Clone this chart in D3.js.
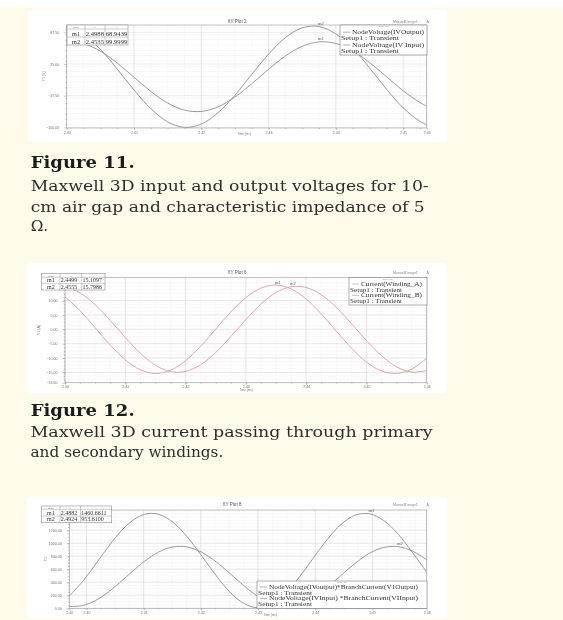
<!DOCTYPE html>
<html>
<head>
<meta charset="utf-8">
<script src="https://cdn.jsdelivr.net/npm/d3@7"></script>
<style>
  html, body { margin: 0; padding: 0; background: #fefbea; }
  svg { display: block; }
</style>
</head>
<body>
<div id="chart"></div>
<script>
// ---- data ----
// Figure 11: XY Plot 2 (voltages)
var plot1Time = [2.4000, 2.4025, 2.4050, 2.4075, 2.4100, 2.4125, 2.4150, 2.4175, 2.4200, 2.4225, 2.4250, 2.4275,
                 2.4300, 2.4325, 2.4350, 2.4375, 2.4400, 2.4425, 2.4450, 2.4475, 2.4500, 2.4525, 2.4535];
var plot1Output = [68.8, 65.3, 50.4, 26.9, -1.1, -29.0, -51.9, -65.9, -68.5, -59.4, -40.1, -13.9,
                   14.7, 40.8, 59.9, 68.7, 65.6, 51.2, 28.0, 0.3, -27.7, -51.0, -57.9];
var plot1Input = [98.6, 83.5, 54.0, 15.2, -26.2, -63.1, -89.1, -99.9, -93.4, -71.0, -36.5, 4.6,
                  44.6, 77.1, 96.4, 98.9, 84.3, 56.3, 17.5, -24.1, -61.4, -88.1, -94.6];
var plot1XTicks = [2.40, 2.41, 2.42, 2.43, 2.44, 2.45, 2.4535];
var plot1YTicks = [87.5, 25, -37.5, -100];
var plot1Legend = ['NodeVoltage(IVOutput)', 'NodeVoltage(IV Input)'];
var plot1MarkerNames = ['m1', 'm2'];
var plot1MarkerX = ['2.4988', '2.4535'];
var plot1MarkerY = ['68.9439', '99.9999'];

// Figure 12: XY Plot 6 (winding currents)
var plot2Time = [2.4000, 2.4025, 2.4050, 2.4075, 2.4100, 2.4125, 2.4150, 2.4175, 2.4200, 2.4225, 2.4250, 2.4275, 2.4300,
                 2.4325, 2.4350, 2.4375, 2.4400, 2.4425, 2.4450, 2.4475, 2.4500, 2.4525, 2.4550, 2.4575, 2.4600];
var plot2WindingA = [11.35, 6.43, 0.52, -5.49, -10.62, -14.11, -15.40, -14.29, -10.95, -5.93, 0.05, 6.00, 11.03,
                     14.33, 15.40, 14.06, 10.53, 5.36, -0.61, -6.51, -11.41, -14.52, -15.37, -13.87, -10.06];
var plot2WindingB = [14.78, 12.66, 8.53, 3.09, -2.84, -8.33, -12.50, -14.73, -14.68, -12.33, -8.09, -2.55, 3.37,
                     8.76, 12.80, 14.82, 14.57, 12.03, 7.63, 2.01, -3.90, -9.19, -13.07, -14.91, -14.34];
var plot2XTicks = [2.40, 2.41, 2.42, 2.43, 2.44, 2.45, 2.46];
var plot2YTicks = [10, 5, 0, -5, -10, -15, -18.6];
var plot2Legend = ['Current(Winding_A)', 'Current(Winding_B)'];
var plot2MarkerNames = ['m1', 'm2'];
var plot2MarkerX = ['2.4499', '2.4555'];
var plot2MarkerY = ['15.1097', '15.7986'];

// Figure 13 (partial): XY Plot 8 (power)
var plot3Time = [2.3970, 2.3995, 2.4020, 2.4045, 2.4070, 2.4095, 2.4120, 2.4145, 2.4170, 2.4195, 2.4220, 2.4245, 2.4270,
                 2.4295, 2.4320, 2.4345, 2.4370, 2.4395, 2.4420, 2.4445, 2.4470, 2.4495, 2.4520, 2.4545, 2.4570, 2.4595];
var plot3OutputPower = [188, 431, 726, 1023, 1270, 1423, 1456, 1363, 1161, 884, 582, 305, 104,
                        13, 48, 204, 453, 751, 1046, 1287, 1431, 1452, 1347, 1139, 859, 556];
var plot3InputPower = [28, 46, 141, 297, 487, 677, 834, 931, 950, 889, 758, 581, 388,
                       211, 83, 27, 51, 152, 312, 503, 691, 845, 935, 947, 879, 746];
var plot3XTicks = [2.397, 2.40, 2.41, 2.42, 2.43, 2.44, 2.45, 2.4595];
var plot3YTicks = [1200, 1000, 800, 600, 400, 200, 0];
var plot3Legend = ['NodeVoltage(IVoutput)*BranchCurrent(V1Output)', 'NodeVoltage(IVInput) *BranchCurrent(VIInput)'];
var plot3MarkerNames = ['m1', 'm2'];
var plot3MarkerX = ['2.4882', '2.4924'];
var plot3MarkerY = ['1460.6611', '953.6100'];

var fig11Title = 'Figure 11.';
var fig11Lines = ['Maxwell 3D input and output voltages for 10-', 'cm air gap and characteristic impedance of 5', 'Ω.'];
var fig12Title = 'Figure 12.';
var fig12Lines = ['Maxwell 3D current passing through primary', 'and secondary windings.'];

// ---- drawing ----
var svg = d3.select('#chart').append('svg').attr('width', 563).attr('height', 620);
var defs = svg.append('defs');
defs.append('filter').attr('id', 'soft').append('feGaussianBlur').attr('stdDeviation', 0.4);
defs.append('filter').attr('id', 'softText').append('feGaussianBlur').attr('stdDeviation', 0.25);

svg.append('rect').attr('width', 563).attr('height', 620).attr('fill', '#fefbea');
svg.append('rect').attr('width', 563).attr('height', 7).attr('fill', '#ffffff');

var serif = '"Liberation Serif", "Times New Roman", serif';
var sans = '"Liberation Sans", Arial, sans-serif';

function minorValues(domain, step) {
   var lo = Math.ceil(domain[0] / step - 1e-6) * step;
   return d3.range(lo, domain[1] + step * 1e-3, step);
}

function drawPlot(p, n) {
   var g = svg.append('g').attr('filter', 'url(#soft)');
   var a = p.area;

   g.append('rect')
      .attr('x', p.panel[0]).attr('y', p.panel[1])
      .attr('width', p.panel[2] - p.panel[0]).attr('height', p.panel[3] - p.panel[1])
      .attr('rx', 4).attr('fill', '#ffffff');

   var x = d3.scaleLinear().domain(p.xDomain).range([a.left, a.right]);
   var y = d3.scaleLinear().domain(p.yDomain).range([a.bottom, a.top]);

   // grid
   var grid = g.append('g');
   grid.selectAll('.vminor').data(minorValues(p.xDomain, p.xMinor)).enter().append('line')
      .attr('x1', function (d) { return x(d); }).attr('x2', function (d) { return x(d); })
      .attr('y1', a.top).attr('y2', a.bottom)
      .attr('stroke', '#ececec').attr('stroke-width', 0.5).attr('stroke-dasharray', '1.5,1');
   grid.selectAll('.hminor').data(minorValues(p.yDomain, p.yMinor)).enter().append('line')
      .attr('y1', function (d) { return y(d); }).attr('y2', function (d) { return y(d); })
      .attr('x1', a.left).attr('x2', a.right)
      .attr('stroke', '#efefef').attr('stroke-width', 0.5);
   grid.selectAll('.vmajor').data(p.xTicks).enter().append('line')
      .attr('x1', function (d) { return x(d); }).attr('x2', function (d) { return x(d); })
      .attr('y1', a.top).attr('y2', a.bottom)
      .attr('stroke', '#d6d6d6').attr('stroke-width', 0.6);
   grid.selectAll('.hmajor').data(p.yTicks).enter().append('line')
      .attr('y1', function (d) { return y(d); }).attr('y2', function (d) { return y(d); })
      .attr('x1', a.left).attr('x2', a.right)
      .attr('stroke', '#dcdcdc').attr('stroke-width', 0.6);

   g.append('rect')
      .attr('x', a.left).attr('y', a.top)
      .attr('width', a.right - a.left).attr('height', a.bottom - a.top)
      .attr('fill', 'none').attr('stroke', '#a8a8a8').attr('stroke-width', 0.7);

   // axes
   var gx = g.append('g').attr('transform', 'translate(0,' + a.bottom + ')')
      .call(d3.axisBottom(x).tickValues(p.xTicks).tickSize(2).tickPadding(1.2).tickFormat(d3.format('.2f')));
   var gxm = g.append('g').attr('transform', 'translate(0,' + a.bottom + ')')
      .call(d3.axisBottom(x).tickValues(minorValues(p.xDomain, p.xMinor)).tickSize(1).tickFormat(''));
   var gy = g.append('g').attr('transform', 'translate(' + a.left + ',0)')
      .call(d3.axisLeft(y).tickValues(p.yTicks).tickSize(2.5).tickPadding(5).tickFormat(d3.format('.2f')));
   var gym = g.append('g').attr('transform', 'translate(' + a.left + ',0)')
      .call(d3.axisLeft(y).tickValues(minorValues(p.yDomain, p.yMinor)).tickSize(1.3).tickFormat(''));
   [gx, gxm, gy, gym].forEach(function (ax) {
      ax.select('.domain').remove();
      ax.selectAll('line').attr('stroke', '#8c8c8c').attr('stroke-width', 0.5);
      ax.selectAll('text').attr('font-family', sans).attr('font-size', 3.6).attr('fill', '#707070');
   });

   g.append('text').attr('x', p.timeX).attr('y', a.bottom + p.timeDy)
      .attr('text-anchor', 'middle').attr('font-family', sans).attr('font-size', 3).attr('fill', '#777')
      .text('Time [ms]');
   g.append('text').attr('transform', 'translate(' + p.yTitleX + ',' + (a.top + a.bottom) / 2 + ') rotate(-90)')
      .attr('text-anchor', 'middle').attr('font-family', sans).attr('font-size', 3.6).attr('fill', '#777')
      .text(p.yTitle);

   // curves
   g.append('clipPath').attr('id', 'clip' + n).append('rect')
      .attr('x', a.left).attr('y', a.top - 2)
      .attr('width', a.right - a.left).attr('height', a.bottom - a.top + 2);
   var line = d3.line()
      .x(function (d, i) { return x(p.time[i]); })
      .y(function (d) { return y(d); })
      .curve(d3.curveCatmullRom.alpha(0.5));
   p.series.forEach(function (s) {
      g.append('path').datum(s.values)
         .attr('clip-path', 'url(#clip' + n + ')')
         .attr('d', line).attr('fill', 'none')
         .attr('stroke', p.color).attr('stroke-width', 0.9);
   });

   // marker labels at the peaks
   p.series.forEach(function (s) {
      var best = -1;
      p.time.forEach(function (t, i) {
         if (t >= s.markFrom && t <= s.markTo && (best < 0 || s.values[i] > s.values[best])) best = i;
      });
      g.append('text').attr('x', x(p.time[best]) - 1).attr('y', y(s.values[best]) - 1.5)
         .attr('font-family', serif).attr('font-size', 4.5).attr('fill', '#555')
         .text(s.marker);
   });

   // title row
   g.append('text').attr('x', p.titleX).attr('y', p.titleY).attr('text-anchor', 'middle')
      .attr('font-family', sans).attr('font-size', 4.6).attr('fill', '#555').text(p.title);
   g.append('text').attr('x', a.right - 9).attr('y', p.titleY).attr('text-anchor', 'end')
      .attr('font-family', sans).attr('font-size', 3.4).attr('fill', '#888').text('MaxwellDesign1');
   g.append('text').attr('x', a.right + 1).attr('y', p.titleY).attr('text-anchor', 'middle')
      .attr('font-family', sans).attr('font-size', 3.6).attr('fill', '#888').text('A');

   // marker table
   var t = p.table;
   var tw = d3.sum(t.colW), th = d3.sum(t.rowH);
   var tg = g.append('g');
   tg.append('rect').attr('x', t.x).attr('y', t.y).attr('width', tw).attr('height', th)
      .attr('fill', '#ffffff').attr('stroke', '#8a8a8a').attr('stroke-width', 0.6);
   var cx = t.x;
   t.colW.forEach(function (w, ci) {
      if (ci > 0) tg.append('line').attr('x1', cx).attr('x2', cx).attr('y1', t.y).attr('y2', t.y + th)
         .attr('stroke', '#9a9a9a').attr('stroke-width', 0.5);
      tg.append('text').attr('x', cx + w / 2).attr('y', t.y + t.rowH[0] - 0.8).attr('text-anchor', 'middle')
         .attr('font-family', sans).attr('font-size', 2.4).attr('fill', '#777').text(['Name', 'X', 'Y'][ci]);
      cx += w;
   });
   var ry = t.y + t.rowH[0];
   t.names.forEach(function (nm, ri) {
      tg.append('line').attr('x1', t.x).attr('x2', t.x + tw).attr('y1', ry).attr('y2', ry)
         .attr('stroke', '#9a9a9a').attr('stroke-width', 0.5);
      var rowVals = [nm, t.xs[ri], t.ys[ri]];
      var px = t.x;
      rowVals.forEach(function (v, ci) {
         tg.append('text').attr('x', ci === 0 ? px + t.colW[0] / 2 : px + 0.8)
            .attr('y', ry + t.rowH[ri + 1] - 1.4)
            .attr('text-anchor', ci === 0 ? 'middle' : 'start')
            .attr('font-family', serif).attr('font-size', t.font).attr('fill', '#333').text(v);
         px += t.colW[ci];
      });
      ry += t.rowH[ri + 1];
   });

   // legend
   var L = p.legend;
   var lg = g.append('g');
   lg.append('rect').attr('x', L.x0).attr('y', L.y0).attr('width', L.x1 - L.x0).attr('height', L.y1 - L.y0)
      .attr('fill', '#ffffff').attr('stroke', '#7a7a7a').attr('stroke-width', 0.6);
   lg.append('text').attr('x', (L.x0 + L.x1) / 2).attr('y', L.y0 + 2.2).attr('text-anchor', 'middle')
      .attr('font-family', sans).attr('font-size', 2.2).attr('fill', '#888').text('Curve Info');
   L.names.forEach(function (nm, i) {
      var by = L.rows[i * 2];
      lg.append('line').attr('x1', L.x0 + 3).attr('x2', L.x0 + 10).attr('y1', by - 1.8).attr('y2', by - 1.8)
         .attr('stroke', p.color).attr('stroke-width', 0.7);
      lg.append('text').attr('x', L.x0 + 12).attr('y', by)
         .attr('font-family', serif).attr('font-size', L.font).attr('fill', '#333')
         .attr('textLength', L.nameW).attr('lengthAdjust', 'spacingAndGlyphs').text(nm);
      lg.append('text').attr('x', L.x0 + 1).attr('y', L.rows[i * 2 + 1])
         .attr('font-family', serif).attr('font-size', L.font).attr('fill', '#333')
         .attr('textLength', L.setupW).attr('lengthAdjust', 'spacingAndGlyphs').text('Setup1 : Transient');
   });
}

drawPlot({
   panel: [28, 10, 447, 142],
   area: { left: 66.7, right: 426.7, top: 25, bottom: 128 },
   xDomain: [2.40, 2.4535], yDomain: [-101.2, 102],
   xTicks: plot1XTicks, yTicks: plot1YTicks,
   xMinor: 0.0025, yMinor: 62.5 / 6,
   time: plot1Time, color: '#8e8e8e',
   series: [
      { values: plot1Output, marker: plot1MarkerNames[0], markFrom: 2.43, markTo: 2.445 },
      { values: plot1Input, marker: plot1MarkerNames[1], markFrom: 2.43, markTo: 2.445 }
   ],
   title: 'XY Plot 2', titleX: 237, titleY: 22.5,
   yTitle: 'Y1 [V]', yTitleX: 45, timeX: 244, timeDy: 7.3,
   table: { x: 67, y: 25, colW: [18, 20, 23], rowH: [4, 8, 8], font: 6.6,
            names: plot1MarkerNames, xs: plot1MarkerX, ys: plot1MarkerY },
   legend: { x0: 340, y0: 25, x1: 427, y1: 55, font: 5.9, nameW: 72, setupW: 58,
             rows: [34, 40.4, 46.8, 53.2], names: plot1Legend }
}, 1);

drawPlot({
   panel: [27, 263, 447, 393],
   area: { left: 65, right: 426.7, top: 277.3, bottom: 382.7 },
   xDomain: [2.40, 2.46], yDomain: [-18.6, 18.1],
   xTicks: plot2XTicks, yTicks: plot2YTicks,
   xMinor: 0.0025, yMinor: 1.25,
   time: plot2Time, color: '#d6a0a6',
   series: [
      { values: plot2WindingA, marker: plot2MarkerNames[0], markFrom: 2.43, markTo: 2.44 },
      { values: plot2WindingB, marker: plot2MarkerNames[1], markFrom: 2.435, markTo: 2.445 }
   ],
   title: 'XY Plot 6', titleX: 237, titleY: 274,
   yTitle: 'Y1 [A]', yTitleX: 40, timeX: 246, timeDy: 8.6,
   table: { x: 41.7, y: 273.3, colW: [18.3, 21.7, 23.3], rowH: [4, 6.3, 6.4], font: 6,
            names: plot2MarkerNames, xs: plot2MarkerX, ys: plot2MarkerY },
   legend: { x0: 349, y0: 277.5, x1: 427, y1: 305, font: 5.2, nameW: 61, setupW: 52,
             rows: [285.8, 291.5, 297.2, 302.9], names: plot2Legend }
}, 2);

drawPlot({
   panel: [27, 497, 447, 618],
   area: { left: 69.3, right: 426.7, top: 510, bottom: 608.3 },
   xDomain: [2.397, 2.4595], yDomain: [0, 1510],
   xTicks: plot3XTicks, yTicks: plot3YTicks,
   xMinor: 0.0025, yMinor: 50,
   time: plot3Time, color: '#8e8e8e',
   series: [
      { values: plot3OutputPower, marker: plot3MarkerNames[0], markFrom: 2.445, markTo: 2.455 },
      { values: plot3InputPower, marker: plot3MarkerNames[1], markFrom: 2.45, markTo: 2.458 }
   ],
   title: 'XY Plot 8', titleX: 232, titleY: 505.5,
   yTitle: 'Y1', yTitleX: 47, timeX: 270, timeDy: 8,
   table: { x: 41.7, y: 506, colW: [18.3, 20.5, 31.2], rowH: [3.3, 6.7, 6.7], font: 6,
            names: plot3MarkerNames, xs: plot3MarkerX, ys: plot3MarkerY },
   legend: { x0: 257, y0: 581, x1: 427, y1: 608.3, font: 5.1, nameW: 149, setupW: 54,
             rows: [588.8, 594.6, 600.4, 606.2], names: plot3Legend }
}, 3);

// captions, stretched (never squeezed) to the widths measured on the page
var cap = svg.append('g').attr('filter', 'url(#softText)');
function caption(text, x, y, size, bold, width) {
   var el = cap.append('text').attr('x', x).attr('y', y)
      .attr('font-family', '"DejaVu Serif", Georgia, serif')
      .attr('font-size', size).attr('font-weight', bold ? 'bold' : 'normal')
      .attr('fill', bold ? '#1e1e1e' : '#2e2e2e')
      .text(text);
   if (el.node().getComputedTextLength() < width) {
      el.attr('textLength', width).attr('lengthAdjust', 'spacingAndGlyphs');
   }
}
caption(fig11Title, 30.7, 168, 17, true, 104);
caption(fig11Lines[0], 30.7, 190.5, 15.3, false, 398);
caption(fig11Lines[1], 30.7, 211.5, 15.3, false, 394);
caption(fig11Lines[2], 30.7, 231, 15.3, false, 16);
caption(fig12Title, 30.7, 416, 17, true, 104);
caption(fig12Lines[0], 30.5, 436.7, 15.3, false, 402);
caption(fig12Lines[1], 30.5, 456.7, 15.3, false, 188);
</script>
</body>
</html>
